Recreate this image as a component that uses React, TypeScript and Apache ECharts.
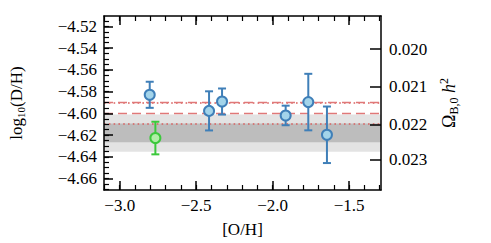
import React, { useEffect, useRef } from "react";
import * as echarts from "echarts";

// Data
const blueOH = [-2.804, -2.416, -2.331, -1.915, -1.767, -1.645];
const blueDH = [-4.5829, -4.5977, -4.5891, -4.6019, -4.5896, -4.6197];
const blueErr = [0.012, 0.018, 0.012, 0.009, 0.026, 0.026];
const greenOH = [-2.767];
const greenDH = [-4.6227];
const greenErr = [0.015];

const lightBand = [-4.601, -4.6353];
const darkBand = [-4.6094, -4.6266];
const dottedLines = [-4.5879, -4.6087];
const dashedLines = [-4.5929, -4.6036];

const yMajorTicks = [-4.52, -4.54, -4.56, -4.58, -4.6, -4.62, -4.64, -4.66];
const xMajorTicks = [-3.0, -2.5, -2.0, -1.5];
const omegaLabels = ["0.020", "0.021", "0.022", "0.023"];
const omegaTickPos = [-4.5408, -4.5757, -4.6103, -4.6427];

const X_MIN = -3.103;
const X_MAX = -1.2915;
const Y_MIN = -4.6705;
const Y_MAX = -4.5104;

const FONT = "Liberation Serif";
const BLUE_EDGE = "#3f7fb8";
const BLUE_FILL = "#a3d4ea";
const GREEN_EDGE = "#3cc83c";
const GREEN_FILL = "#b0eea6";
const RED = "#d9605f";

const fmtNum = (v: number, d: number) =>
  (v < 0 ? "\u2212" : "") + Math.abs(v).toFixed(d);

function range(a: number, b: number, step: number) {
  const out: number[] = [];
  for (let v = a; v <= b + 1e-9; v += step) out.push(Math.round(v * 1000) / 1000);
  return out;
}

const yMinorTicks = range(-4.67, -4.51, 0.005);
const xMinorTicks = range(-3.1, -1.3, 0.1);

function errorBarSeries(xs: number[], ys: number[], es: number[], color: string) {
  return {
    type: "custom",
    xAxisIndex: 0,
    yAxisIndex: 0,
    z: 5,
    silent: true,
    data: xs.map((x, i) => [x, ys[i], es[i]]),
    renderItem: (params: any, api: any) => {
      const x = api.value(0);
      const y = api.value(1);
      const e = api.value(2);
      const top = api.coord([x, y + e]);
      const bot = api.coord([x, y - e]);
      const cap = 4;
      const style = { stroke: color, lineWidth: 2 };
      return {
        type: "group",
        children: [
          { type: "line", shape: { x1: top[0], y1: top[1], x2: bot[0], y2: bot[1] }, style },
          { type: "line", shape: { x1: top[0] - cap, y1: top[1], x2: top[0] + cap, y2: top[1] }, style },
          { type: "line", shape: { x1: bot[0] - cap, y1: bot[1], x2: bot[0] + cap, y2: bot[1] }, style },
        ],
      };
    },
  };
}

const tickRich = { t: { fontFamily: FONT, fontSize: 17, color: "#000" } };
const AX = { color: "#000", width: 1.5, opacity: 1 };
const AXm = { color: "#000", width: 1.2, opacity: 1 };

export default function App() {
  const ref = useRef<HTMLDivElement>(null);
  useEffect(() => {
    if (!ref.current) return;
    const chart = echarts.init(ref.current, undefined, { renderer: "svg" });
    const labelStyle = { fontFamily: FONT, fontSize: 17, color: "#000", rich: tickRich };
    const option: any = {
      animation: false,
      backgroundColor: "#fff",
      textStyle: { fontFamily: FONT, fontSize: 17, color: "#000" },
      grid: { left: 83, right: 110, top: 16, bottom: 48, containLabel: false },
      xAxis: [
        {
          type: "value",
          position: "bottom",
          min: X_MIN,
          max: X_MAX,
          z: 10,
          axisLine: { show: true, onZero: false, lineStyle: AX },
          axisTick: { show: true, inside: true, length: 9, customValues: xMajorTicks, lineStyle: AX },
          axisLabel: { show: true, ...labelStyle, margin: 7, customValues: xMajorTicks, formatter: (v: number) => "{t|" + fmtNum(v, 1) + "}" },
          splitLine: { show: false },
          name: "[O/H]",
          nameLocation: "middle",
          nameGap: 31,
          nameTextStyle: { fontFamily: FONT, fontSize: 17, color: "#000" },
        },
        {
          type: "value",
          position: "bottom",
          min: X_MIN,
          max: X_MAX,
          z: 10,
          axisLine: { show: false, onZero: false },
          axisTick: { show: true, inside: true, length: 5, customValues: xMinorTicks, lineStyle: AXm },
          axisLabel: { show: false },
          splitLine: { show: false },
        },
        {
          type: "value",
          position: "top",
          min: X_MIN,
          max: X_MAX,
          z: 10,
          axisLine: { show: true, onZero: false, lineStyle: AX },
          axisTick: { show: true, inside: true, length: 9, customValues: xMajorTicks, lineStyle: AX },
          axisLabel: { show: false },
          splitLine: { show: false },
        },
        {
          type: "value",
          position: "top",
          min: X_MIN,
          max: X_MAX,
          z: 10,
          axisLine: { show: false, onZero: false },
          axisTick: { show: true, inside: true, length: 5, customValues: xMinorTicks, lineStyle: AXm },
          axisLabel: { show: false },
          splitLine: { show: false },
        },
      ],
      yAxis: [
        {
          type: "value",
          position: "left",
          min: Y_MIN,
          max: Y_MAX,
          z: 10,
          axisLine: { show: true, onZero: false, lineStyle: AX },
          axisTick: { show: true, inside: true, length: 9, customValues: yMajorTicks, lineStyle: AX },
          axisLabel: { show: true, ...labelStyle, margin: 7, customValues: yMajorTicks, formatter: (v: number) => "{t|" + fmtNum(v, 2) + "}" },
          splitLine: { show: false },
          name: "log{s|10}(D/H)",
          nameLocation: "middle",
          nameRotate: 90,
          nameGap: 78,
          nameTextStyle: {
            fontFamily: FONT,
            fontSize: 17,
            color: "#000",
            rich: { s: { fontFamily: FONT, fontSize: 11, color: "#000", padding: [8, 0, 0, 0] } },
          },
        },
        {
          type: "value",
          position: "left",
          min: Y_MIN,
          max: Y_MAX,
          z: 10,
          axisLine: { show: false, onZero: false },
          axisTick: { show: true, inside: true, length: 5, customValues: yMinorTicks, lineStyle: AXm },
          axisLabel: { show: false },
          splitLine: { show: false },
        },
        {
          type: "value",
          position: "right",
          min: Y_MIN,
          max: Y_MAX,
          z: 10,
          axisLine: { show: true, onZero: false, lineStyle: AX },
          axisTick: { show: true, inside: true, length: 11, customValues: omegaTickPos, lineStyle: AX },
          axisLabel: {
            show: true,
            ...labelStyle,
            margin: 8,
            customValues: omegaTickPos,
            formatter: (v: number) => {
              let best = 0;
              omegaTickPos.forEach((p, i) => {
                if (Math.abs(p - v) < Math.abs(omegaTickPos[best] - v)) best = i;
              });
              return "{t|" + omegaLabels[best] + "}";
            },
          },
          splitLine: { show: false },
          name: "\u03A9{s|B,0} {i|h}{p|2}",
          nameLocation: "middle",
          nameRotate: 90,
          nameGap: 50,
          nameTextStyle: {
            fontFamily: FONT,
            fontSize: 18,
            color: "#000",
            rich: {
              s: { fontFamily: FONT, fontSize: 12, color: "#000", padding: [10, 0, 0, 0] },
              i: { fontFamily: FONT, fontSize: 18, fontStyle: "italic", color: "#000" },
              p: { fontFamily: FONT, fontSize: 12, color: "#000", padding: [0, 0, 10, 0] },
            },
          },
        },
      ],
      series: [
        {
          type: "line",
          data: [],
          z: 1,
          silent: true,
          markArea: {
            silent: true,
            data: [
              [{ yAxis: lightBand[0], itemStyle: { color: "#e3e3e3" } }, { yAxis: lightBand[1] }],
              [{ yAxis: darkBand[0], itemStyle: { color: "#bdbdbd" } }, { yAxis: darkBand[1] }],
            ],
          },
        },
        {
          type: "line",
          data: [],
          z: 2,
          silent: true,
          markLine: {
            silent: true,
            symbol: "none",
            label: { show: false },
            data: [
              ...dottedLines.map((v) => ({ yAxis: v, lineStyle: { color: RED, width: 1.6, type: [1.6, 3.2] } })),
              ...dashedLines.map((v) => ({ yAxis: v, lineStyle: { color: "#e07878", width: 1.3, type: [9, 5] } })),
            ],
          },
        },
        errorBarSeries(blueOH, blueDH, blueErr, BLUE_EDGE),
        errorBarSeries(greenOH, greenDH, greenErr, GREEN_EDGE),
        {
          type: "scatter",
          z: 6,
          silent: true,
          symbol: "circle",
          symbolSize: 10,
          data: blueOH.map((x, i) => [x, blueDH[i]]),
          itemStyle: { color: BLUE_FILL, borderColor: BLUE_EDGE, borderWidth: 2, opacity: 1 },
        },
        {
          type: "scatter",
          z: 6,
          silent: true,
          symbol: "circle",
          symbolSize: 10,
          data: greenOH.map((x, i) => [x, greenDH[i]]),
          itemStyle: { color: GREEN_FILL, borderColor: GREEN_EDGE, borderWidth: 2, opacity: 1 },
        },
      ],
    };
    chart.setOption(option);
    return () => chart.dispose();
  }, []);
  return (
    <div
      ref={ref}
      style={{ position: "fixed", left: 0, top: 0, width: 491, height: 243, background: "#fff" }}
    />
  );
}
